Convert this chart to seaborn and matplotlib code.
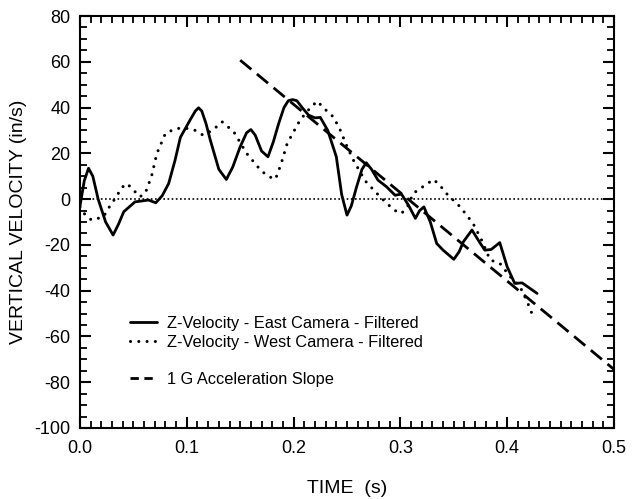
import numpy as np
import pandas as pd
import seaborn as sns
import matplotlib.pyplot as plt
from matplotlib.lines import Line2D
from matplotlib.ticker import MultipleLocator

# East camera (filtered) - solid curve
east_t = [0.000, 0.004, 0.008, 0.012, 0.017, 0.024, 0.031, 0.036, 0.041, 0.0515, 0.058,
          0.064, 0.071, 0.077, 0.083, 0.089, 0.094, 0.103, 0.108, 0.111, 0.114, 0.118, 0.122, 0.130,
          0.137, 0.143, 0.150, 0.156, 0.160, 0.164, 0.170, 0.176, 0.181, 0.186, 0.191, 0.195, 0.199, 0.203, 0.208, 0.214, 0.220, 0.225,
          0.232, 0.240, 0.245, 0.250, 0.254, 0.259, 0.264, 0.268, 0.273, 0.279, 0.287, 0.295, 0.301,
          0.308, 0.314, 0.318, 0.322, 0.328, 0.334, 0.340, 0.350, 0.355, 0.359, 0.367, 0.373,
          0.379, 0.385, 0.393, 0.400, 0.407, 0.414, 0.428]
east_v = [-3, 8, 13.5, 10, 0, -10, -15.7, -11, -5.5, -1.2, -0.8,
          -0.4, -1.6, 1.5, 6.8, 17, 27, 34.5, 38.5, 39.9, 38.5, 33, 25.8, 13,
          8.6, 14, 22.9, 29, 30.4, 28, 21, 18.5, 25, 33, 40, 43, 43.5, 43, 40, 36.7, 35.5, 35.7,
          30, 18.5, 2, -7, -3, 5.4, 13, 15.9, 13, 8.3, 5.4, 1.7, 2.2,
          -3, -8.4, -5, -3.4, -10, -19.4, -22.3, -26.3, -23, -18.6, -13.5, -18,
          -22.3, -22, -19, -29.6, -36.8, -36.6, -41.2]

# West camera (filtered) - dotted curve
west_t = [0.000, 0.005, 0.011, 0.022, 0.028, 0.034, 0.039, 0.044, 0.050, 0.056,
          0.061, 0.067, 0.072, 0.080, 0.090, 0.101, 0.108, 0.115, 0.124, 0.133,
          0.144, 0.156, 0.169, 0.176, 0.183, 0.188, 0.194, 0.206, 0.214, 0.222,
          0.230, 0.237, 0.243, 0.250, 0.256, 0.267, 0.281, 0.289, 0.295, 0.301,
          0.307, 0.312, 0.321, 0.331, 0.337, 0.343, 0.356, 0.368, 0.376, 0.384,
          0.393, 0.403, 0.412, 0.418, 0.424]
west_v = [-3.4, -7, -9.2, -7.7, -3, 1, 5, 6.8, 4, 1,
          2.5, 10, 20, 28.7, 30.9, 30.9, 30, 28, 30, 33.8,
          29.4, 20, 12.7, 10, 8.7, 15, 24.3, 34.5, 39, 42.8,
          39, 36, 30.9, 23, 17, 8, 1, -2.6, -5, -6.3,
          -3, 2.5, 5.4, 8.6, 6, 2.5, -3.4, -10.6, -17.9, -26.6,
          -28, -34, -38.3, -44, -51]

# 1 G acceleration slope line
slope_t = [0.15, 0.50]
slope_v = [60.7, -74.4]

labels = ["Z-Velocity - East Camera - Filtered",
          "Z-Velocity - West Camera - Filtered",
          "1 G Acceleration Slope"]

sns.set_theme(style="ticks")
plt.rcParams['font.family'] = ['Liberation Sans', 'DejaVu Sans']
plt.rcParams['axes.unicode_minus'] = False
plt.rcParams['text.color'] = 'black'

east = pd.DataFrame({"t": east_t, "v": east_v})
west = pd.DataFrame({"t": west_t, "v": west_v})
slope = pd.DataFrame({"t": slope_t, "v": slope_v})

fig = plt.figure(figsize=(6.41, 4.99), dpi=100)
ax = fig.add_axes([0.1248, 0.1423, 0.8331, 0.8256])

ax.axhline(0, color="black", lw=1.2, ls=(0, (1, 1.5)), zorder=1)

sns.lineplot(data=east, x="t", y="v", ax=ax, color="black", lw=2.0, sort=False)
sns.lineplot(data=west, x="t", y="v", ax=ax, color="black", lw=2.2, sort=False,
             ls=(0, (0.01, 2.7)), dash_capstyle="round")
sns.lineplot(data=slope, x="t", y="v", ax=ax, color="black", lw=2.0,
             ls=(0, (5.2, 2.6)))

ax.set_xlim(0, 0.5)
ax.set_ylim(-100, 80)
ax.xaxis.set_major_locator(MultipleLocator(0.1))
ax.xaxis.set_minor_locator(MultipleLocator(0.01))
ax.yaxis.set_major_locator(MultipleLocator(20))
ax.yaxis.set_minor_locator(MultipleLocator(5))
ax.xaxis.set_major_formatter(plt.FuncFormatter(lambda v, p: f"{v:.1f}"))

for s in ax.spines.values():
    s.set_linewidth(1.5)
    s.set_color("black")
ax.tick_params(which="both", direction="in", top=True, right=True,
               color="black", labelcolor="black", labelsize=13)
ax.tick_params(which="major", length=8, width=1.5)
ax.tick_params(which="minor", length=5, width=1.3)
ax.tick_params(axis="x", which="major", pad=9)
ax.tick_params(axis="y", which="major", pad=7)

ax.set_xlabel("TIME  (s)", fontsize=14, labelpad=16, color="black")
ax.set_ylabel("VERTICAL VELOCITY (in/s)", fontsize=14, labelpad=5, color="black")

handles = [Line2D([], [], color="black", lw=2.0),
           Line2D([], [], color="black", lw=2.2, ls=(0, (0.01, 2.7)),
                  dash_capstyle="round"),
           Line2D([], [], color="none"),
           Line2D([], [], color="black", lw=2.0, ls=(0, (3.0, 2.0)))]
leg = ax.legend(handles, [labels[0], labels[1], " ", labels[2]],
                loc="upper left", bbox_to_anchor=(0.094, 0.272), frameon=False,
                fontsize=11.8, borderpad=0, borderaxespad=0, handlelength=1.65,
                handletextpad=0.6, labelspacing=0.22)
for txt in leg.get_texts():
    txt.set_color("black")

fig.savefig("out.png", dpi=100)
